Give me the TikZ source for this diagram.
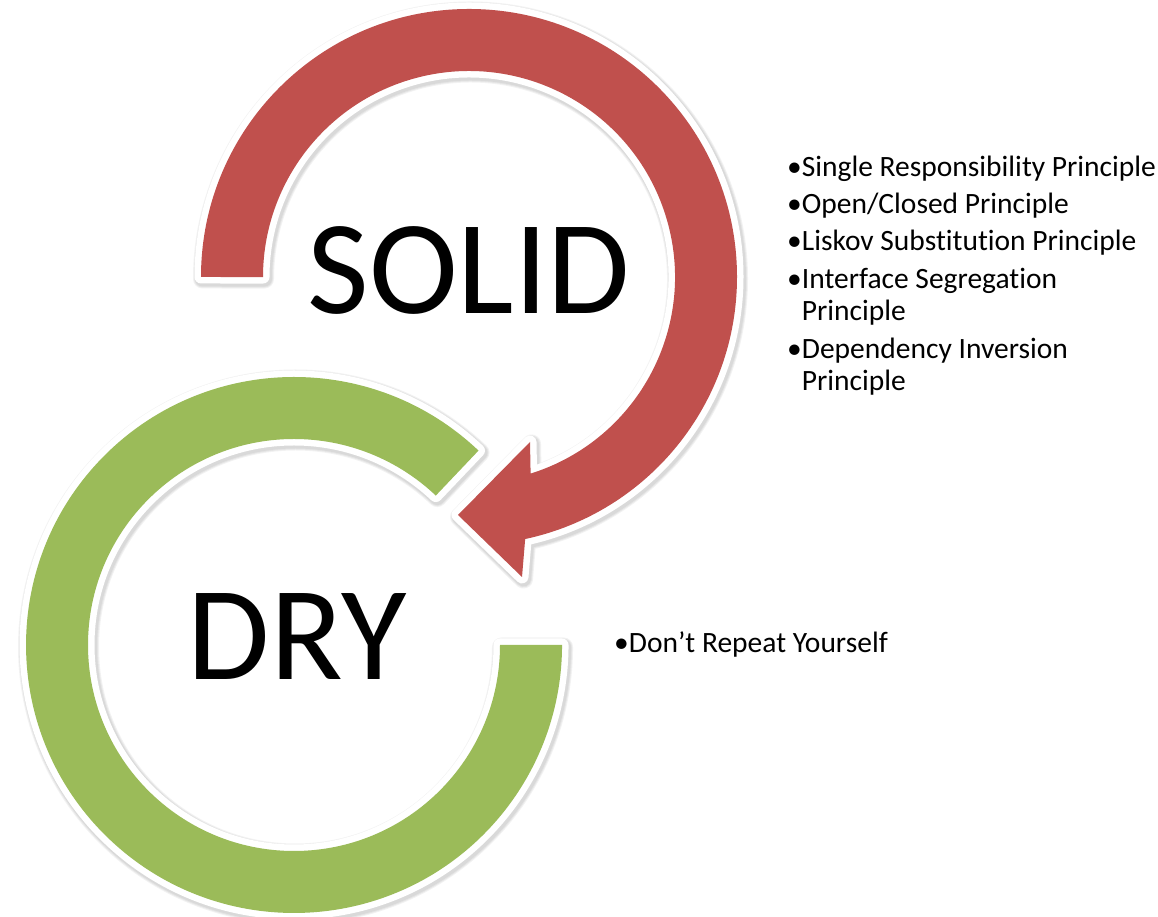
\documentclass[tikz,border=0pt]{standalone}
\usepackage{fontspec}
\setmainfont{Carlito}[Ligatures={NoCommon,NoRare,NoContextual}]
\begin{document}
\begin{tikzpicture}[x=1pt,y=1pt]
\definecolor{solidred}{HTML}{C0504D}
\definecolor{drygreen}{HTML}{9BBB59}
\tikzset{
  halo/.style={draw=white, line width=13pt, line join=round},
  softshade/.style={draw=black, draw opacity=0.05, line join=round, line width=#1},
  bigword/.style={font=\fontsize{134}{134}\selectfont, anchor=base, inner sep=0pt},
  bullettext/.style={font=\fontsize{29.5}{32}\selectfont, anchor=base west, inner sep=0pt, align=left},
}
\fill[white] (0,0) rectangle (1158,917);
\useasboundingbox (0,0) rectangle (1158,917);

% curved arrow (SOLID): outer radius 268, inner radius 206, centre (469,640)
\def\redring{(201,640) arc[start angle=180, end angle=-77.9, radius=268]
  -- (522,340) -- (458,402) -- (530,475) -- (530.6,443.4)
  arc[start angle=-72.6, end angle=180, radius=206] -- cycle}
% open ring (DRY): same radii, centre (294,272)
\def\greenring{(478.5,466.4) arc[start angle=46.5, end angle=360, radius=268]
  -- (500,272) arc[start angle=360, end angle=46.5, radius=206] -- cycle}

% soft shadows
\foreach \w in {19,17,15} {
  \draw[softshade=\w pt, shift={(1.5,-2)}] \redring;
  \draw[softshade=\w pt, shift={(1.5,-2)}] \greenring;
}
% white outlines
\draw[halo] \redring;
\draw[halo] \greenring;
% coloured bands
\fill[solidred] \redring;
\fill[drygreen] \greenring;

\node[bigword] (solid) at (469,603) {SOLID};
\node[bigword] (dry) at (297,237) {DRY};

\node[bullettext] (solidlist) at (787,740) {%
  \begin{tabular}[t]{@{}l@{}l@{}}
  •&Single Responsibility Principle\\[5pt]
  •&Open/Closed Principle\\[5pt]
  •&Liskov Substitution Principle\\[6pt]
  •&Interface Segregation\\
   &Principle\\[6pt]
  •&Dependency Inversion\\
   &Principle
  \end{tabular}};
\node[bullettext] (drylist) at (614,264) {•Don’t Repeat Yourself};
\end{tikzpicture}
\end{document}
